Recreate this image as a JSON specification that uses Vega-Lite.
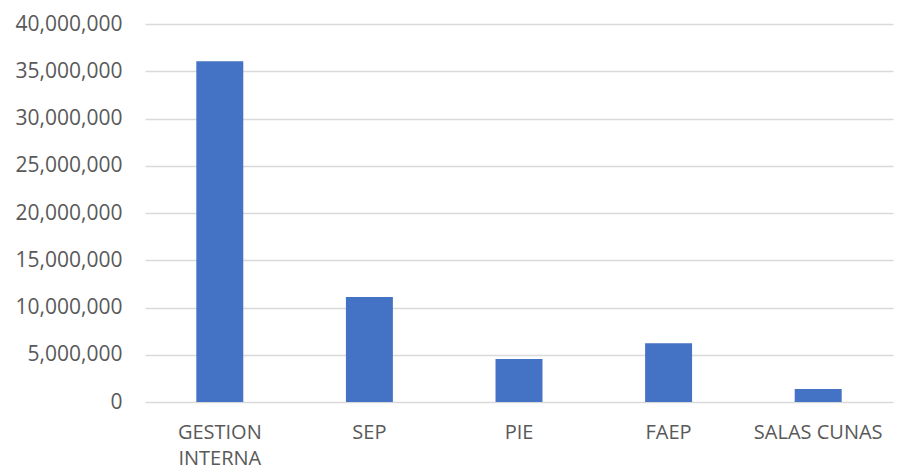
{
  "$schema": "https://vega.github.io/schema/vega-lite/v6.json",
  "autosize": {"type": "none"},
  "padding": {"left": 145, "top": 24, "right": 8, "bottom": 70},
  "width": 748,
  "height": 378,
  "background": "#FFFFFF",
  "data": {
    "values": [
      {"programa": "GESTION INTERNA", "monto": 36060000},
      {"programa": "SEP", "monto": 11100000},
      {"programa": "PIE", "monto": 4540000},
      {"programa": "FAEP", "monto": 6230000},
      {"programa": "SALAS CUNAS", "monto": 1380000}
    ]
  },
  "mark": {"type": "bar", "color": "#4472C4"},
  "encoding": {
    "x": {
      "field": "programa",
      "type": "nominal",
      "sort": null,
      "title": null,
      "scale": {"paddingInner": 0.686, "paddingOuter": 0.343},
      "axis": {
        "labelAngle": 0,
        "domain": false,
        "ticks": false,
        "labelPadding": 20,
        "labelFont": "Open Sans",
        "labelFontSize": 20,
        "labelColor": "#595959",
        "labelLineHeight": 26,
        "labelExpr": "datum.value == 'GESTION INTERNA' ? ['GESTION', 'INTERNA'] : datum.value"
      }
    },
    "y": {
      "field": "monto",
      "type": "quantitative",
      "title": null,
      "scale": {"domain": [0, 40000000], "nice": false},
      "axis": {
        "values": [0, 5000000, 10000000, 15000000, 20000000, 25000000, 30000000, 35000000, 40000000],
        "format": ",d",
        "domain": false,
        "ticks": false,
        "grid": true,
        "gridColor": "#D9D9D9",
        "gridWidth": 1.3,
        "labelPadding": 23,
        "labelFont": "Open Sans",
        "labelFontSize": 21,
        "labelColor": "#595959"
      }
    }
  },
  "config": {"view": {"stroke": null}}
}
